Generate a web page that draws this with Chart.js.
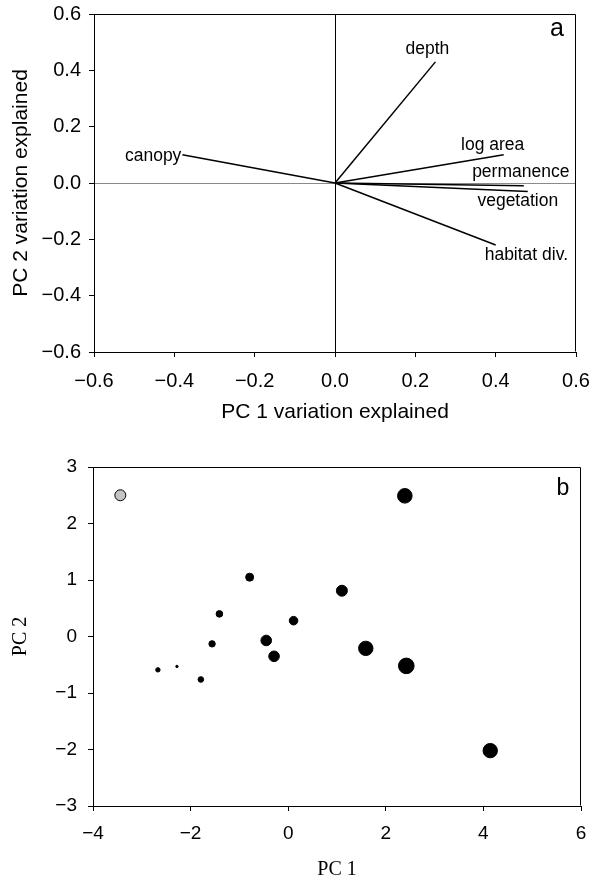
<!DOCTYPE html>
<html><head><meta charset="utf-8">
<script src="https://cdn.jsdelivr.net/npm/chart.js@4"></script>
<style>
html,body{margin:0;padding:0;background:#fff;}
#wrap{width:590px;height:880px;position:relative;overflow:hidden;}
.box{position:absolute;left:0;width:590px;height:440px;}
</style></head><body>
<div id="wrap">
<div class="box" style="top:0"><canvas id="c1"></canvas></div>
<div class="box" style="top:440px"><canvas id="c2"></canvas></div>
</div>
<script>
// ---- Panel a: PCA loadings ----
const variableNames = ['depth', 'log area', 'permanence', 'vegetation', 'habitat div.', 'canopy'];
const pc1Loadings = [0.25, 0.42, 0.47, 0.48, 0.40, -0.38];
const pc2Loadings = [0.43, 0.10, -0.01, -0.03, -0.22, 0.10];
const loadingTicks = [-0.6, -0.4, -0.2, 0.0, 0.2, 0.4, 0.6];

// ---- Panel b: site scores ----
const sitePC1 = [-3.44, 2.39, -0.79, 1.10, -1.41, 0.11, -0.45, 1.59, -1.56, -0.29, 2.42, -2.67, -2.28, -1.79, 4.14];
const sitePC2 = [2.50, 2.49, 1.05, 0.81, 0.40, 0.28, -0.07, -0.21, -0.13, -0.35, -0.52, -0.59, -0.53, -0.76, -2.02];
const siteMagnitude = [5.5, 7.3, 4.0, 5.5, 3.3, 4.3, 5.3, 7.2, 3.2, 5.3, 7.8, 2.2, 1.2, 2.8, 7.2];
const siteIsReference = [true, false, false, false, false, false, false, false, false, false, false, false, false, false, false];
const pcTicksX = [-4, -2, 0, 2, 4, 6];
const pcTicksY = [-3, -2, -1, 0, 1, 2, 3];

// ---- styling / placement (not data) ----
const SANS = "'Liberation Sans', Arial, Helvetica, sans-serif";
const SERIF = "'Liberation Serif', 'Times New Roman', serif";
const labelPlacement = {
  'depth': {align: 'center', dx: -8, dy: -13},
  'log area': {align: 'center', dx: -11, dy: -10},
  'permanence': {align: 'center', dx: -3, dy: -14},
  'vegetation': {align: 'center', dx: -10, dy: 10},
  'habitat div.': {align: 'left', dx: -11, dy: 10},
  'canopy': {align: 'right', dx: -1, dy: 1}
};
const fmtMinus = v => (v < 0 ? '\u2212' : '') + Math.abs(v);
const fmtOneDec = v => { const t = Number(v).toFixed(1); return t.startsWith('-') ? (t === '-0.0' ? '0.0' : '\u2212' + t.slice(1)) : t; };

const frame = {
  id: 'frame',
  afterDraw(chart) {
    const {ctx, chartArea: a} = chart;
    ctx.save();
    ctx.strokeStyle = '#000';
    ctx.lineWidth = 1;
    ctx.beginPath();
    const l = Math.round(a.left) + 0.5, r = Math.round(a.right) - 0.5;
    const t = Math.round(a.top) + 0.5, b = Math.round(a.bottom) - 0.5;
    ctx.moveTo(l, t); ctx.lineTo(r, t); ctx.lineTo(r, b);
    ctx.stroke();
    ctx.restore();
  }
};

const panelLetter = {
  id: 'panelLetter',
  afterDraw(chart, args, opts) {
    const {ctx, chartArea: a} = chart;
    ctx.save();
    ctx.font = opts.size + 'px ' + SANS;
    ctx.fillStyle = '#000';
    ctx.textAlign = 'center';
    ctx.textBaseline = 'middle';
    ctx.fillText(opts.text, a.right + opts.dx, a.top + opts.dy);
    ctx.restore();
  }
};

const vectorLabels = {
  id: 'vectorLabels',
  afterDatasetsDraw(chart) {
    const {ctx, scales: {x, y}} = chart;
    ctx.save();
    ctx.font = '17.5px ' + SANS;
    ctx.fillStyle = '#000';
    ctx.textBaseline = 'middle';
    variableNames.forEach((name, i) => {
      const p = labelPlacement[name];
      ctx.textAlign = p.align;
      ctx.fillText(name, x.getPixelForValue(pc1Loadings[i]) + p.dx, y.getPixelForValue(pc2Loadings[i]) + p.dy);
    });
    ctx.restore();
  }
};

const isZero = v => Math.abs(v) < 1e-9;

// Panel a
new Chart(document.getElementById('c1'), {
  type: 'scatter',
  data: {
    datasets: variableNames.map((name, i) => ({
      label: name,
      data: [{x: 0, y: 0}, {x: pc1Loadings[i], y: pc2Loadings[i]}],
      showLine: true,
      borderColor: '#000',
      borderWidth: 1.5,
      pointRadius: 0,
      pointHoverRadius: 0
    }))
  },
  options: {
    responsive: true, maintainAspectRatio: false, animation: false,
    layout: {padding: {left: 0, right: 14, top: 14, bottom: 0}},
    plugins: {legend: {display: false}, tooltip: {enabled: false},
      panelLetter: {text: 'a', size: 25, dx: -19, dy: 15}},
    scales: {
      x: {
        type: 'linear', min: loadingTicks[0], max: loadingTicks[loadingTicks.length - 1],
        afterBuildTicks: s => { s.ticks = loadingTicks.map(v => ({value: v})); },
        ticks: {callback: fmtOneDec, color: '#000', font: {family: SANS, size: 20}, padding: 12, maxRotation: 0},
        grid: {color: c => (c.tick && isZero(c.tick.value)) ? '#000' : 'rgba(0,0,0,0)', tickColor: '#000', tickLength: 5, lineWidth: 1},
        border: {display: true, color: '#000', width: 1},
        title: {display: true, text: 'PC 1 variation explained', color: '#000', font: {family: SANS, size: 21}, padding: {top: 0, bottom: 15}},
        afterFit: s => { s.height = 88; s.paddingLeft = 0; s.paddingRight = 0; }
      },
      y: {
        type: 'linear', min: loadingTicks[0], max: loadingTicks[loadingTicks.length - 1],
        afterBuildTicks: s => { s.ticks = loadingTicks.map(v => ({value: v})); },
        ticks: {callback: fmtOneDec, color: '#000', font: {family: SANS, size: 20}, padding: 8},
        grid: {color: c => (c.tick && isZero(c.tick.value)) ? '#8a8a8a' : 'rgba(0,0,0,0)', tickColor: '#000', tickLength: 5, lineWidth: 1},
        border: {display: true, color: '#000', width: 1},
        title: {display: true, text: 'PC 2 variation explained', color: '#000', font: {family: SANS, size: 21}, padding: {top: 9, bottom: 0}},
        afterFit: s => { s.width = 94; s.paddingTop = 0; s.paddingBottom = 0; }
      }
    }
  },
  plugins: [frame, vectorLabels, panelLetter]
});

// Panel b
const refPts = [], sitePts = [], refR = [], siteR = [];
sitePC1.forEach((v, i) => {
  if (siteIsReference[i]) { refPts.push({x: v, y: sitePC2[i]}); refR.push(siteMagnitude[i]); }
  else { sitePts.push({x: v, y: sitePC2[i]}); siteR.push(siteMagnitude[i]); }
});

new Chart(document.getElementById('c2'), {
  type: 'scatter',
  data: {
    datasets: [
      {label: 'reference', data: refPts, backgroundColor: '#c4c4c4', borderColor: '#000', borderWidth: 1,
       pointRadius: c => refR[c.dataIndex], pointHoverRadius: c => refR[c.dataIndex]},
      {label: 'sites', data: sitePts, backgroundColor: '#000', borderColor: '#000', borderWidth: 1,
       pointRadius: c => siteR[c.dataIndex], pointHoverRadius: c => siteR[c.dataIndex]}
    ]
  },
  options: {
    responsive: true, maintainAspectRatio: false, animation: false,
    layout: {padding: {left: 0, right: 9, top: 27, bottom: 0}},
    plugins: {legend: {display: false}, tooltip: {enabled: false},
      panelLetter: {text: 'b', size: 23, dx: -18, dy: 22}},
    scales: {
      x: {
        type: 'linear', min: pcTicksX[0], max: pcTicksX[pcTicksX.length - 1],
        afterBuildTicks: s => { s.ticks = pcTicksX.map(v => ({value: v})); },
        ticks: {callback: v => fmtMinus(v), color: '#000', font: {family: SANS, size: 19}, padding: 11, maxRotation: 0},
        grid: {color: 'rgba(0,0,0,0)', tickColor: '#000', tickLength: 5, lineWidth: 1},
        border: {display: true, color: '#000', width: 1},
        title: {display: true, text: 'PC 1', color: '#000', font: {family: SERIF, size: 20, lineHeight: 1.0}, padding: {top: 0, bottom: 0}},
        afterFit: s => { s.height = 74; s.paddingLeft = 0; s.paddingRight = 0; }
      },
      y: {
        type: 'linear', min: pcTicksY[0], max: pcTicksY[pcTicksY.length - 1],
        afterBuildTicks: s => { s.ticks = pcTicksY.map(v => ({value: v})); },
        ticks: {callback: v => fmtMinus(v), color: '#000', font: {family: SANS, size: 19}, padding: 11},
        grid: {color: 'rgba(0,0,0,0)', tickColor: '#000', tickLength: 5, lineWidth: 1},
        border: {display: true, color: '#000', width: 1},
        title: {display: true, text: 'PC 2', color: '#000', font: {family: SERIF, size: 20}, padding: {top: 9, bottom: 0}},
        afterFit: s => { s.width = 93; s.paddingTop = 0; s.paddingBottom = 0; }
      }
    }
  },
  plugins: [frame, panelLetter]
});
</script>
</body></html>
